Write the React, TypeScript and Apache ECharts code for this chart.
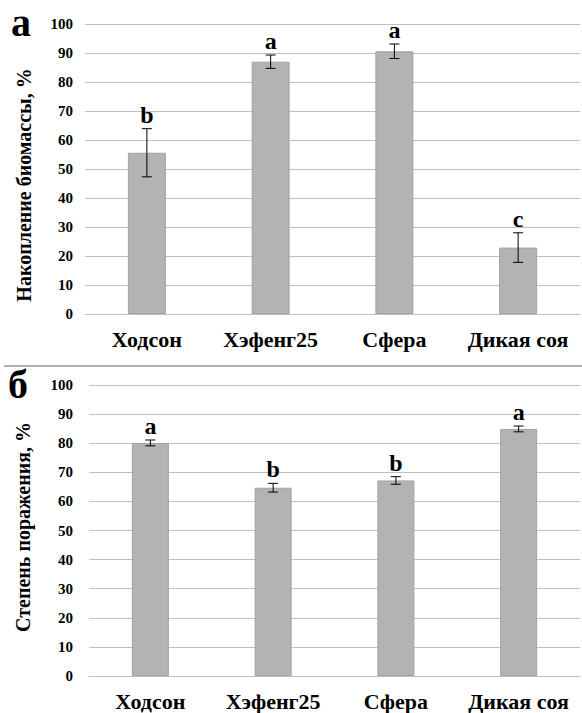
import React, { useEffect, useRef } from "react";
import * as echarts from "echarts";

const categories = ["Ходсон", "Хэфенг25", "Сфера", "Дикая соя"];
const biomass = [55.6, 87.0, 90.6, 22.9];
const biomassErr = [8.3, 2.3, 2.5, 5.1];
const biomassLetters = ["b", "a", "a", "c"];
const damage = [80.1, 64.7, 67.2, 84.9];
const damageErr = [1.0, 1.5, 1.3, 1.0];
const damageLetters = ["a", "b", "b", "a"];
const yTicks = { min: 0, max: 100, interval: 10 };

const SERIF = '"Liberation Serif", "Times New Roman", serif';
const GRID_COLOR = "#bfbfbf";
const BAR_COLOR = "#b3b3b3";

function errorSeries(values: number[], errs: number[], letters: string[], axisIndex: number) {
  return {
    type: "custom",
    xAxisIndex: axisIndex,
    yAxisIndex: axisIndex,
    data: values.map((v, i) => [i, v, errs[i]]),
    encode: { x: 0, y: 1 },
    z: 10,
    renderItem: (params: any, api: any) => {
      const i = api.value(0);
      const v = api.value(1);
      const e = api.value(2);
      const top = api.coord([i, v + e]);
      const bot = api.coord([i, v - e]);
      const cap = 5;
      const ls = { stroke: "#000", lineWidth: 1 };
      return {
        type: "group",
        children: [
          { type: "line", shape: { x1: top[0], y1: top[1], x2: bot[0], y2: bot[1] }, style: ls },
          { type: "line", shape: { x1: top[0] - cap, y1: top[1], x2: top[0] + cap, y2: top[1] }, style: ls },
          { type: "line", shape: { x1: bot[0] - cap, y1: bot[1], x2: bot[0] + cap, y2: bot[1] }, style: ls },
          {
            type: "text",
            style: {
              text: letters[params.dataIndex],
              x: top[0],
              y: top[1] - 2,
              align: "center",
              verticalAlign: "bottom",
              font: `bold 24px ${SERIF}`,
              fill: "#000",
            },
          },
        ],
      };
    },
  };
}

export default function App() {
  const ref = useRef<HTMLDivElement>(null);
  useEffect(() => {
    if (!ref.current) return;
    const chart = echarts.init(ref.current, null, { renderer: "svg" });
    const xAxisBase = (gridIndex: number) => ({
      type: "category",
      gridIndex,
      data: categories,
      axisTick: { show: false },
      axisLine: { lineStyle: { color: GRID_COLOR, width: 1 } },
      axisLabel: {
        interval: 0,
        hideOverlap: false,
        color: "#000",
        fontFamily: SERIF,
        fontWeight: "bold",
        fontSize: 22,
        margin: 14,
      },
    });
    const yAxisBase = (gridIndex: number, margin: number) => ({
      type: "value",
      gridIndex,
      min: yTicks.min,
      max: yTicks.max,
      interval: yTicks.interval,
      axisLine: { show: false },
      axisTick: { show: false },
      splitLine: { lineStyle: { color: GRID_COLOR, width: 1 } },
      axisLabel: { color: "#000", fontFamily: SERIF, fontWeight: "bold", fontSize: 15, margin },
    });
    chart.setOption({
      animation: false,
      backgroundColor: "#fff",
      grid: [
        { left: 85, right: 2, top: 24, height: 290 },
        { left: 89, right: 2, top: 385, height: 291 },
      ],
      xAxis: [xAxisBase(0), xAxisBase(1)],
      yAxis: [yAxisBase(0, 12), yAxisBase(1, 16)],
      series: [
        {
          type: "bar",
          xAxisIndex: 0,
          yAxisIndex: 0,
          data: biomass,
          barWidth: 38,
          itemStyle: { color: BAR_COLOR, borderColor: "#a3a3a3", borderWidth: 1 },
        },
        {
          type: "bar",
          xAxisIndex: 1,
          yAxisIndex: 1,
          data: damage,
          barWidth: 37,
          itemStyle: { color: BAR_COLOR, borderColor: "#a3a3a3", borderWidth: 1 },
        },
        errorSeries(biomass, biomassErr, biomassLetters, 0),
        errorSeries(damage, damageErr, damageLetters, 1),
      ],
      graphic: [
        {
          type: "text",
          x: 11,
          y: 22,
          style: { text: "а", font: `bold 40px ${SERIF}`, fill: "#000", verticalAlign: "middle" },
        },
        {
          type: "text",
          x: 8,
          y: 384,
          style: { text: "б", font: `bold 40px ${SERIF}`, fill: "#000", verticalAlign: "middle" },
        },
        {
          type: "text",
          x: 24,
          y: 185,
          rotation: Math.PI / 2,
          style: {
            text: "Накопление биомассы, %",
            font: `bold 20px ${SERIF}`,
            fill: "#000",
            align: "center",
            verticalAlign: "middle",
          },
        },
        {
          type: "text",
          x: 23,
          y: 527,
          rotation: Math.PI / 2,
          style: {
            text: "Степень поражения, %",
            font: `bold 20px ${SERIF}`,
            fill: "#000",
            align: "center",
            verticalAlign: "middle",
          },
        },
        {
          type: "line",
          shape: { x1: 4, y1: 366, x2: 582, y2: 366 },
          style: { stroke: "#b0b0b0", lineWidth: 2 },
        },
      ],
    });
    return () => chart.dispose();
  }, []);
  return (
    <div
      ref={ref}
      style={{ position: "absolute", left: 0, top: 0, width: 582, height: 713 }}
    />
  );
}
